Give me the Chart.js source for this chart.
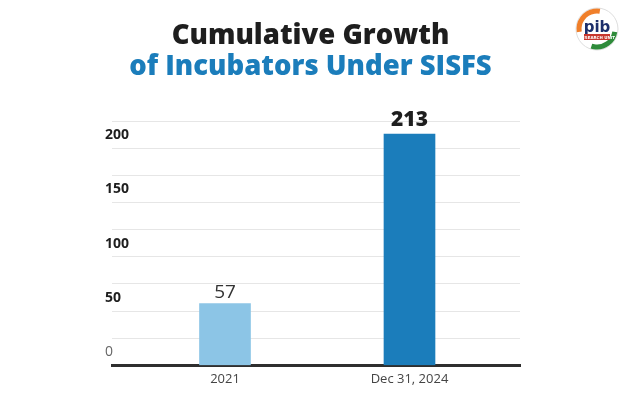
<!DOCTYPE html>
<html>
<head>
<meta charset="utf-8">
<script src="https://cdn.jsdelivr.net/npm/chart.js@4/dist/chart.umd.min.js"></script>
<style>
  html,body{margin:0;padding:0;background:#fff;}
  #wrap{position:relative;width:624px;height:399px;}
  #titulo{position:absolute;left:0;top:17.5px;width:621px;text-align:center;
    font-family:"Open Sans",sans-serif;font-weight:800;font-size:27.5px;line-height:31.5px;pointer-events:none;}
  #titulo .l1{color:#1e1e1e;display:block;}
  #titulo .l2{color:#1b7dbb;display:block;}
</style>
</head>
<body>
<div id="wrap">
  <canvas id="grafico"></canvas>
  <div id="titulo"><span class="l1"></span><span class="l2"></span></div>
</div>
<script>
// dados do gráfico
const categorias = ['2021', 'Dec 31, 2024'];
const valores    = [57, 213];
const cores      = ['#8cc5e6', '#1b7dbb'];
const ticksY     = [0, 50, 100, 150, 200];
const tituloL1   = 'Cumulative Growth';
const tituloL2   = 'of Incubators Under SISFS';

document.querySelector('#titulo .l1').textContent = tituloL1;
document.querySelector('#titulo .l2').textContent = tituloL2;

// rótulos em cima das barras
const rotulosBarras = {
  id: 'rotulosBarras',
  afterDatasetsDraw(chart){
    const {ctx} = chart;
    const meta = chart.getDatasetMeta(0);
    meta.data.forEach((bar, i)=>{
      const destaque = i === valores.length - 1;
      ctx.save();
      ctx.font = destaque ? '800 21px "Open Sans"' : '400 19px "Open Sans"';
      ctx.fillStyle = destaque ? '#1e1e1e' : '#333';
      ctx.textAlign = 'center';
      ctx.textBaseline = 'alphabetic';
      ctx.fillText(String(valores[i]), bar.x, bar.y - (destaque ? 8 : 5));
      ctx.restore();
    });
  }
};

// logo pib (aproximado)
const logoPib = {
  id: 'logoPib',
  afterDraw(chart){
    const ctx = chart.ctx; const cx = 597, cy = 29, r = 21;
    ctx.save();
    ctx.beginPath(); ctx.arc(cx, cy, r, 0, Math.PI*2); ctx.fillStyle='#fff'; ctx.fill();
    ctx.lineWidth = 1; ctx.strokeStyle = '#ddd'; ctx.stroke();
    ctx.lineWidth = 5;
    ctx.beginPath(); ctx.arc(cx, cy, r-3, Math.PI*0.95, Math.PI*1.55); ctx.strokeStyle='#f07f2a'; ctx.stroke();
    ctx.beginPath(); ctx.arc(cx, cy, r-3, Math.PI*0.05, Math.PI*0.6); ctx.strokeStyle='#2e8b3a'; ctx.stroke();
    ctx.font = '700 15px "DejaVu Sans"'; ctx.fillStyle = '#1d2f6b'; ctx.textAlign='center';
    ctx.fillText('pib', cx, cy + 3);
    ctx.fillStyle = '#c8372d'; ctx.fillRect(cx-13, cy+5, 26, 6);
    ctx.font = '700 4px "DejaVu Sans"'; ctx.fillStyle = '#fff';
    ctx.fillText('RESEARCH UNIT', cx, cy + 10);
    ctx.restore();
  }
};

new Chart(document.getElementById('grafico').getContext('2d'), {
  type: 'bar',
  data: {
    datasets: [{
      data: categorias.map((c, i)=>({x: i, y: valores[i]})),
      backgroundColor: cores,
      barThickness: 51,
      borderWidth: 0
    }]
  },
  options: {
    responsive: true,
    maintainAspectRatio: false,
    animation: false,
    layout: { padding: { left: 112, right: 104, top: 121, bottom: 6 } },
    plugins: {
      legend: { display: false },
      tooltip: { enabled: false },
      title: { display: false },
      subtitle: { display: false }
    },
    scales: {
      x: {
        type: 'linear', min: -0.6125, max: 1.599, offset: false,
        afterBuildTicks: axis => { axis.ticks = categorias.map((c, i)=>({value: i})); },
        grid: { display: false, drawTicks: false },
        border: { display: true, color: '#2e2e2e', width: 3 },
        ticks: {
          callback: v => categorias[v] ?? '',
          color: '#444', padding: 6,
          font: { family: '"Open Sans"', size: 13 }
        }
      },
      y: {
        min: 0, max: 225,
        grid: { color: '#e6e6e6', lineWidth: 1, drawTicks: false },
        border: { display: false },
        ticks: {
          stepSize: 25, mirror: true, padding: -2.33, labelOffset: -13,
          callback: v => ticksY.includes(v) ? String(v) : '',
          color: ctx => ctx.tick && ctx.tick.value === 0 ? '#666' : '#1e1e1e',
          font: ctx => ({ family: '"Open Sans"', size: 14, weight: (ctx.tick && ctx.tick.value === 0) ? 400 : 700 })
        }
      }
    }
  },
  plugins: [rotulosBarras, logoPib]
});
</script>
</body>
</html>
